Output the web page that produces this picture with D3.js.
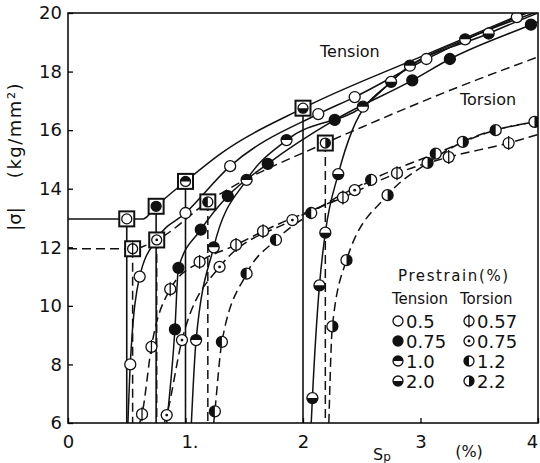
<!DOCTYPE html>
<html>
<head>
<meta charset="utf-8">
<script src="https://cdnjs.cloudflare.com/ajax/libs/d3/7.8.5/d3.min.js"></script>
<style>
  body { margin: 0; background: #fff; }
  text { font-family: "DejaVu Sans", sans-serif; fill: #111; }
</style>
</head>
<body>
<div class="chart"></div>
<script>
var svgWidth = 540;
var svgHeight = 463;

// axis ticks
var xTicks = [0, 1, 2, 3, 4];
var xTickLabels = ["0", "1.", "2", "3", "4"];
var yTicks = [6, 8, 10, 12, 14, 16, 18, 20];

// monotonic curves  [strain %, |sigma| kg/mm2, marker?]
var tensionMono = [[0, 12.97, 0], [0.5, 12.97, 0], [0.64, 12.97, 0], [0.75, 13.4, 0], [1.0, 14.25, 0],
    [1.3, 15.2, 0], [2.0, 16.75, 0], [3.0, 18.5, 0], [4.0, 20.2, 0]];
var torsionMono = [[0, 11.95, 0], [0.55, 11.95, 0], [0.755, 12.25, 0], [1.19, 13.55, 0], [2.19, 15.56, 0],
    [2.5, 16.1, 0], [3.0, 16.95, 0], [3.5, 17.75, 0], [4.0, 18.5, 0]];

// prestrain end points (boxed)
var tensionPre = [[0.5, 12.97], [0.75, 13.4], [1.0, 14.25], [2.0, 16.75]];
var torsionPre = [[0.55, 11.95], [0.755, 12.25], [1.19, 13.55], [2.19, 15.56]];
var tensionPreMarks = ["open", "filled", "halfTop", "halfBottom"];
var torsionPreMarks = ["phi", "dot", "halfLeft", "halfRight"];

// reloading in tension after tension prestrain
var ten05 = [[0.51, 6, 0], [0.53, 8.0, 1], [0.61, 11.0, 1], [0.76, 12.3, 0], [1.0, 13.17, 1], [1.38, 14.77, 1],
    [2.13, 16.55, 1], [2.44, 17.13, 1], [3.05, 18.43, 1], [3.82, 19.86, 1], [4.0, 20.15, 0]];
var ten075 = [[0.84, 6, 0], [0.91, 9.2, 1], [0.94, 11.3, 1], [1.13, 12.6, 1], [1.36, 13.75, 1], [1.7, 14.85, 1],
    [2.27, 16.35, 1], [2.93, 17.7, 1], [3.25, 18.43, 1], [3.94, 19.6, 1], [4.0, 19.7, 0]];
var ten10 = [[1.05, 6, 0], [1.09, 8.83, 1], [1.24, 12.0, 1], [1.52, 14.3, 1], [1.86, 15.66, 1],
    [2.51, 16.8, 1], [2.91, 18.2, 1], [3.38, 19.1, 1], [4.0, 20.05, 0]];
var ten20 = [[2.07, 6, 0], [2.08, 6.85, 1], [2.14, 10.7, 1], [2.19, 12.5, 1], [2.3, 14.5, 1], [2.42, 16.0, 0],
    [2.75, 17.65, 1], [3.58, 19.3, 1], [4.0, 20.0, 0]];

// reloading in torsion after torsion prestrain
var tor057 = [[0.61, 6, 0], [0.63, 6.3, 1], [0.71, 8.6, 1], [0.87, 10.57, 1], [1.12, 11.5, 1], [1.43, 12.08, 1],
    [1.66, 12.55, 1], [2.34, 13.7, 1], [2.8, 14.53, 1], [3.24, 15.08, 1], [3.75, 15.56, 1], [4.0, 15.85, 0]];
var tor075 = [[0.82, 6, 0], [0.84, 6.27, 1], [0.97, 8.83, 1], [1.29, 11.33, 1], [1.91, 12.93, 1],
    [2.44, 13.95, 1], [2.58, 14.3, 0]];
var tor12 = [[1.24, 6, 0], [1.25, 6.4, 1], [1.31, 8.77, 1], [1.52, 11.1, 1], [1.77, 12.25, 1], [2.07, 13.17, 1],
    [2.58, 14.3, 1], [3.13, 15.2, 1], [3.64, 16.0, 1], [4.0, 16.3, 0]];
var tor22 = [[2.22, 6, 0], [2.25, 9.3, 1], [2.37, 11.56, 1], [2.72, 13.78, 1], [3.06, 14.88, 1],
    [3.36, 15.6, 1], [3.97, 16.28, 1]];

// legend
var legendTension = [["open", "0.5"], ["filled", "0.75"], ["halfTop", "1.0"], ["halfBottom", "2.0"]];
var legendTorsion = [["phi", "0.57"], ["dot", "0.75"], ["halfLeft", "1.2"], ["halfRight", "2.2"]];

var svg = d3.select(".chart")
    .append("svg")
    .attr("width", svgWidth)
    .attr("height", svgHeight);

var x = d3.scaleLinear().domain([0, 4]).range([68, 538]);
var y = d3.scaleLinear().domain([6, 20]).range([423, 13]);

svg.append("clipPath").attr("id", "plot")
    .append("rect")
    .attr("x", x(0)).attr("y", y(20))
    .attr("width", x(4) - x(0)).attr("height", y(6) - y(20));

var plot = svg.append("g").attr("clip-path", "url(#plot)");

var line = d3.line()
    .x(d => x(d[0]))
    .y(d => y(d[1]))
    .curve(d3.curveMonotoneX);

var DASH = "9,5";

function drawCurve(data, dashed) {
    plot.append("path")
        .datum(data)
        .attr("d", line)
        .attr("fill", "none")
        .attr("stroke", "#111")
        .attr("stroke-width", 1.5)
        .attr("stroke-dasharray", dashed ? DASH : null);
}

// draws one marker symbol
function marker(g, type, cx, cy, r) {
    g.append("circle")
        .attr("cx", cx).attr("cy", cy).attr("r", r)
        .attr("fill", type === "filled" ? "#111" : "#fff")
        .attr("stroke", "#111").attr("stroke-width", 1.3);
    var p = null;
    if (type === "halfTop") p = `M${cx - r},${cy} A${r},${r} 0 0 1 ${cx + r},${cy} Z`;
    if (type === "halfBottom") p = `M${cx - r},${cy} A${r},${r} 0 0 0 ${cx + r},${cy} Z`;
    if (type === "halfLeft") p = `M${cx},${cy - r} A${r},${r} 0 0 0 ${cx},${cy + r} Z`;
    if (type === "halfRight") p = `M${cx},${cy - r} A${r},${r} 0 0 1 ${cx},${cy + r} Z`;
    if (p) g.append("path").attr("d", p).attr("fill", "#111");
    if (type === "phi") {
        g.append("line")
            .attr("x1", cx).attr("x2", cx)
            .attr("y1", cy - r - 1.5).attr("y2", cy + r + 1.5)
            .attr("stroke", "#111").attr("stroke-width", 1.3);
    }
    if (type === "dot") {
        g.append("circle").attr("cx", cx).attr("cy", cy).attr("r", 1.4).attr("fill", "#111");
    }
}

// monotonic curves
drawCurve(tensionMono, false);
drawCurve(torsionMono, true);

// unloading verticals
tensionPre.forEach(function(d) {
    plot.append("line")
        .attr("x1", x(d[0])).attr("x2", x(d[0]))
        .attr("y1", y(d[1])).attr("y2", y(6))
        .attr("stroke", "#111").attr("stroke-width", 1.6);
});
torsionPre.forEach(function(d) {
    plot.append("line")
        .attr("x1", x(d[0])).attr("x2", x(d[0]))
        .attr("y1", y(d[1])).attr("y2", y(6))
        .attr("stroke", "#111").attr("stroke-width", 1.5)
        .attr("stroke-dasharray", DASH);
});

// reloading curves
var tensionSeries = [[ten05, "open"], [ten075, "filled"], [ten10, "halfTop"], [ten20, "halfBottom"]];
var torsionSeries = [[tor057, "phi"], [tor075, "dot"], [tor12, "halfLeft"], [tor22, "halfRight"]];

tensionSeries.forEach(s => drawCurve(s[0], false));
torsionSeries.forEach(s => drawCurve(s[0], true));

// boxed prestrain points
function drawBoxes(pts, marks) {
    pts.forEach(function(d, i) {
        plot.append("rect")
            .attr("x", x(d[0]) - 7.5).attr("y", y(d[1]) - 7.5)
            .attr("width", 15).attr("height", 15)
            .attr("fill", "#fff")
            .attr("stroke", "#111").attr("stroke-width", 2);
        marker(plot, marks[i], x(d[0]), y(d[1]), 5);
    });
}
drawBoxes(tensionPre, tensionPreMarks);
drawBoxes(torsionPre, torsionPreMarks);

// markers
tensionSeries.concat(torsionSeries).forEach(function(s) {
    s[0].filter(d => d[2]).forEach(function(d) {
        marker(plot, s[1], x(d[0]), y(d[1]), 5.5);
    });
});

// frame
svg.append("rect")
    .attr("x", x(0)).attr("y", y(20))
    .attr("width", x(4) - x(0)).attr("height", y(6) - y(20))
    .attr("fill", "none").attr("stroke", "#111").attr("stroke-width", 1.6);

// axes
var leftAxis = d3.axisLeft(y).tickValues(yTicks).tickSize(-5).tickPadding(6).tickSizeOuter(0);
var gy = svg.append("g").attr("transform", `translate(${x(0)},0)`).call(leftAxis);
gy.select(".domain").remove();
gy.selectAll("text").style("font-size", "18px").attr("font-family", null);

var bottomAxis = d3.axisBottom(x).tickValues(xTicks).tickSize(-5).tickPadding(12).tickSizeOuter(0)
    .tickFormat((d, i) => xTickLabels[i]);
var gx = svg.append("g").attr("transform", `translate(0,${y(6)})`).call(bottomAxis);
gx.select(".domain").remove();
gx.selectAll("text").style("font-size", "18px").attr("font-family", null)
    .attr("dx", (d, i) => i === 1 ? 4 : (i === 4 ? -6 : 0));
gx.selectAll("line").attr("stroke-width", 1.3);
gy.selectAll("line").attr("stroke-width", 1.3);

// axis titles
svg.append("text")
    .attr("transform", "translate(21,219) rotate(-90)")
    .attr("text-anchor", "middle")
    .style("font-size", "18px")
    .text("|σ|");
svg.append("text")
    .attr("transform", "translate(21,130) rotate(-90)")
    .attr("text-anchor", "middle")
    .style("font-size", "18px")
    .style("letter-spacing", "1.5px")
    .text("(kg/mm²)");

var sp = svg.append("text").attr("x", 373).attr("y", 460).style("font-size", "16px").text("S");
sp.append("tspan").attr("dy", 1).style("font-size", "12px").text("p");
svg.append("text").attr("x", 469).attr("y", 457).attr("text-anchor", "middle")
    .style("font-size", "16px").text("(%)");

// curve labels
svg.append("text").attr("x", 320).attr("y", 57).style("font-size", "16px").text("Tension");
svg.append("text").attr("x", 460).attr("y", 105).style("font-size", "16px").text("Torsion");

// legend
var lg = svg.append("g");
lg.append("text").attr("x", 398).attr("y", 281).style("font-size", "15px")
    .style("letter-spacing", "1.6px").text("Prestrain(%)");
lg.append("text").attr("x", 392).attr("y", 304).style("font-size", "15px").text("Tension");
lg.append("text").attr("x", 460).attr("y", 304).style("font-size", "15px").text("Torsion");

legendTension.forEach(function(d, i) {
    var cy = 321 + i * 20;
    marker(lg, d[0], 398, cy, 5);
    lg.append("text").attr("x", 406).attr("y", cy + 6.5).style("font-size", "18px").text(d[1]);
});
legendTorsion.forEach(function(d, i) {
    var cy = 321 + i * 20;
    marker(lg, d[0], 469, cy, 5);
    lg.append("text").attr("x", 477).attr("y", cy + 6.5).style("font-size", "18px").text(d[1]);
});
</script>
</body>
</html>
